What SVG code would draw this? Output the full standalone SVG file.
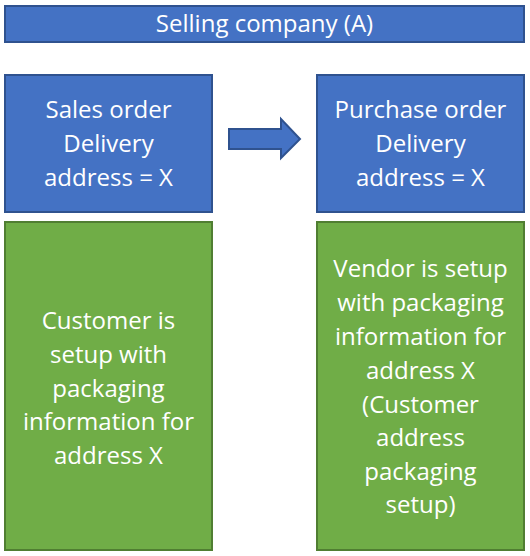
<svg xmlns="http://www.w3.org/2000/svg" width="530" height="556" viewBox="0 0 530 556">
<style>
.blue{fill:#4472C4;stroke:#2F528F;stroke-width:2}
.green{fill:#70AD47;stroke:#507E32;stroke-width:2}
text{fill:#fff;font-family:"Open Sans","Liberation Sans",Arial,sans-serif;font-size:24px;text-anchor:middle}
</style>
<rect width="530" height="556" fill="#fff"/>
<g id="company">
<rect class="blue" x="5" y="6" width="519" height="36"/>
<text x="264.5" y="32">Selling company (A)</text>
</g>
<g id="sales-order">
<rect class="blue" x="5" y="75" width="207" height="137"/>
<text x="108.5" y="118">Sales order</text>
<text x="108.5" y="152">Delivery</text>
<text x="108.5" y="186">address = X</text>
</g>
<g id="purchase-order">
<rect class="blue" x="317" y="75" width="207" height="137"/>
<text x="420.5" y="118">Purchase order</text>
<text x="420.5" y="152">Delivery</text>
<text x="420.5" y="186">address = X</text>
</g>
<g id="customer">
<rect class="green" x="5" y="222" width="207" height="328"/>
<text x="108.5" y="329">Customer is</text>
<text x="108.5" y="363">setup with</text>
<text x="108.5" y="397">packaging</text>
<text x="108.5" y="430">information for</text>
<text x="108.5" y="464">address X</text>
</g>
<g id="vendor">
<rect class="green" x="317" y="222" width="207" height="328"/>
<text x="420.5" y="277">Vendor is setup</text>
<text x="420.5" y="311">with packaging</text>
<text x="420.5" y="345">information for</text>
<text x="420.5" y="379">address X</text>
<text x="420.5" y="413">(Customer</text>
<text x="420.5" y="446">address</text>
<text x="420.5" y="480">packaging</text>
<text x="420.5" y="513">setup)</text>
</g>
<g id="connectors">
<polygon class="blue" points="229,129 281,129 281,119 300,139 281,158 281,149 229,149"/>
</g>
</svg>
